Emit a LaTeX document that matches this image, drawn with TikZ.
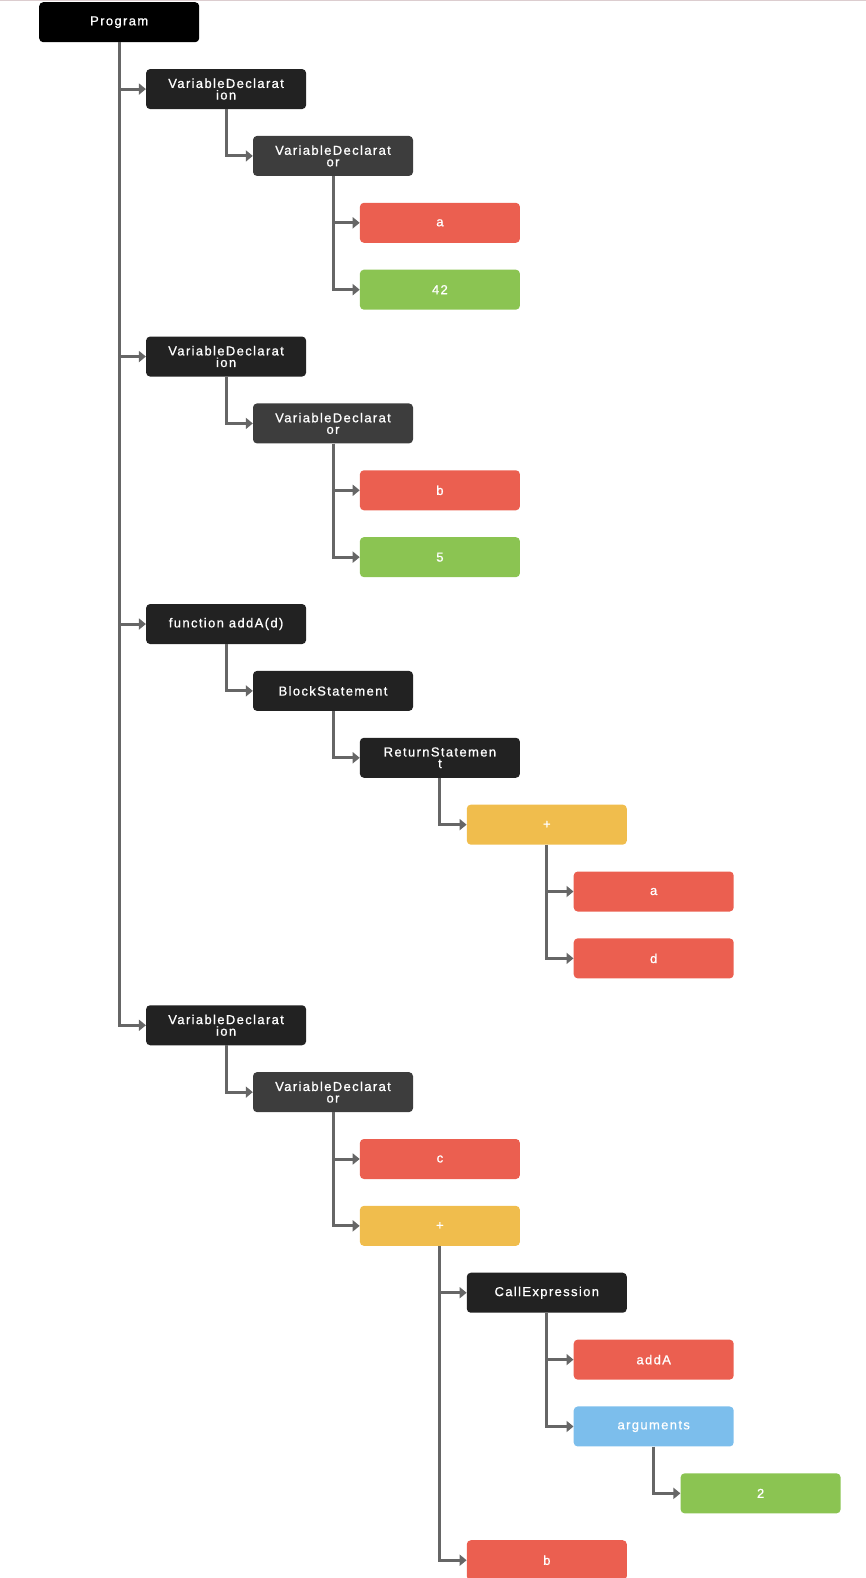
\documentclass[tikz,border=0pt]{standalone}
\usepackage{fontspec}
\setmainfont{Liberation Sans}[LetterSpace=10.5,FakeBold=0.8]
\usetikzlibrary{arrows.meta}
\definecolor{cblack}{HTML}{000000}
\definecolor{cdark}{HTML}{222222}
\definecolor{cgray}{HTML}{3D3D3D}
\definecolor{cred}{HTML}{EB5F50}
\definecolor{cgreen}{HTML}{8BC452}
\definecolor{cyellow}{HTML}{F0BD4D}
\definecolor{cblue}{HTML}{7CBEEC}
\definecolor{cline}{HTML}{666666}
\definecolor{ctop}{HTML}{DCCDCF}
\tikzset{
  box/.style={rounded corners=4pt, minimum width=160pt, minimum height=40pt,
    inner sep=0pt, anchor=north west, text=white, align=center,
    font=\fontsize{13}{11.6}\selectfont},
  conn/.style={draw=cline, line width=3pt, -{Triangle[length=7pt,width=11pt]}}
}
\newcommand\mynode[5]{\node[box,fill=#4] (#1) at ({39+106.9*#2},{2+66.87*#3}) {#5};}
\begin{document}
\begin{tikzpicture}[x=1pt,y=-1pt]
\useasboundingbox (0,0) rectangle (866,1578);
\clip (0,0) rectangle (866,1578);
\fill[ctop] (0,0) rectangle (866,1.5);
\mynode{n0}{0}{0}{cblack}{Program}
\mynode{n1}{1}{1}{cdark}{VariableDeclarat\\ion}
\mynode{n2}{2}{2}{cgray}{VariableDeclarat\\or}
\mynode{n3}{3}{3}{cred}{a}
\mynode{n4}{3}{4}{cgreen}{42}
\mynode{n5}{1}{5}{cdark}{VariableDeclarat\\ion}
\mynode{n6}{2}{6}{cgray}{VariableDeclarat\\or}
\mynode{n7}{3}{7}{cred}{b}
\mynode{n8}{3}{8}{cgreen}{5}
\mynode{n9}{1}{9}{cdark}{function addA(d)}
\mynode{n10}{2}{10}{cdark}{BlockStatement}
\mynode{n11}{3}{11}{cdark}{ReturnStatemen\\t}
\mynode{n12}{4}{12}{cyellow}{+}
\mynode{n13}{5}{13}{cred}{a}
\mynode{n14}{5}{14}{cred}{d}
\mynode{n15}{1}{15}{cdark}{VariableDeclarat\\ion}
\mynode{n16}{2}{16}{cgray}{VariableDeclarat\\or}
\mynode{n17}{3}{17}{cred}{c}
\mynode{n18}{3}{18}{cyellow}{+}
\mynode{n19}{4}{19}{cdark}{CallExpression}
\mynode{n20}{5}{20}{cred}{addA}
\mynode{n21}{5}{21}{cblue}{arguments}
\mynode{n22}{6}{22}{cgreen}{2}
\mynode{n23}{4}{23}{cred}{b}
\foreach \p/\c in {n0/n1,n0/n5,n0/n9,n0/n15,n1/n2,n2/n3,n2/n4,n5/n6,n6/n7,n6/n8,
  n9/n10,n10/n11,n11/n12,n12/n13,n12/n14,n15/n16,n16/n17,n16/n18,n18/n19,n18/n23,
  n19/n20,n19/n21,n21/n22}
  \draw[conn] (\p.south) |- (\c.west);
\end{tikzpicture}
\end{document}
